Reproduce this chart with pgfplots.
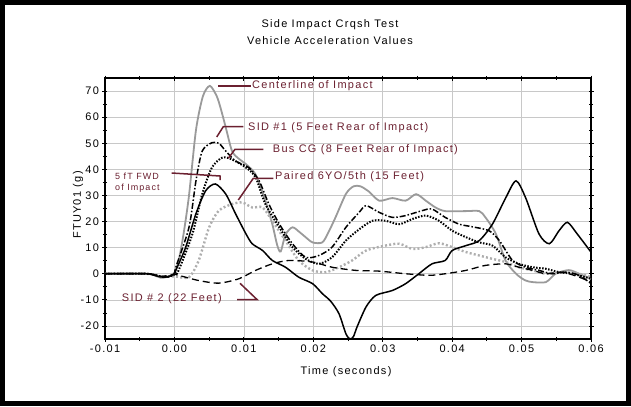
\documentclass[border=0pt]{standalone}
\usepackage{fontspec}
\setmainfont{Liberation Sans}[LetterSpace=12]
\usepackage{pgfplots}
\pgfplotsset{compat=1.18}
\definecolor{maroon}{HTML}{6B2030}
\definecolor{gridgray}{HTML}{C8C8C8}
\definecolor{clgray}{HTML}{9A9A9A}
\definecolor{pgray}{HTML}{AEAEAE}
\begin{document}
\begin{tikzpicture}[x=1bp,y=1bp]
\begin{axis}[
  scale only axis, width=486bp, height=261bp,
  at={(0,0)}, anchor=south west,
  xmin=-0.01, xmax=0.06, ymin=-25, ymax=75,
  xtick={-0.01,0,0.01,0.02,0.03,0.04,0.05,0.06},
  minor xtick={-0.005,0.005,0.015,0.025,0.035,0.045,0.055},
  ytick={-20,-10,0,10,20,30,40,50,60,70},
  minor ytick={-15,-5,5,15,25,35,45,55,65},
  grid=major, major grid style={gridgray, line width=0.6bp},
  tick align=center, major tick length=5bp, minor tick length=4bp,
  every tick/.style={black, line width=0.8bp},
  axis line style={black, line width=1.2bp},
  scaled x ticks=false,
  xticklabel style={/pgf/number format/.cd, fixed, fixed zerofill, precision=2},
  /pgf/number format/assume math mode=true,
  ticklabel style={font=\fontsize{11}{12}\selectfont},
  every axis plot/.append style={smooth, tension=0.45},
  clip=true,
]
% Centerline of Impact (gray solid)
\addplot[clgray, line width=1.8bp] coordinates {
(-0.01,0) (-0.004,0) (-0.003,-0.5) (-0.002,-1.5) (-0.001,-1.2) (0.0000,0.5)
(0.0006,5) (0.0013,15) (0.0021,30) (0.0031,55) (0.0041,68) (0.0051,72)
(0.0061,68) (0.0067,63) (0.0074,56) (0.0083,47) (0.0093,44) (0.0103,42)
(0.0117,38) (0.0131,28) (0.0141,19) (0.0148,11) (0.0153,8.5) (0.0160,15)
(0.0170,17.8) (0.0180,16) (0.0189,14) (0.0199,12) (0.0213,12) (0.0222,16)
(0.0232,21.6) (0.0247,30.6) (0.0258,33.5) (0.0268,33.5) (0.0280,31.5)
(0.0295,28) (0.0314,29) (0.0333,28) (0.0348,30.5) (0.0362,28) (0.0376,25.4)
(0.0390,24) (0.0420,24) (0.0439,24) (0.0448,21.6) (0.0463,15.3) (0.0477,5)
(0.0492,0) (0.0505,-2.5) (0.0516,-3.2) (0.0535,-3.2) (0.0549,0) (0.0568,1.4)
(0.0583,0) (0.0600,-2)
};
% Paired 6YO/5th (gray dotted)
\addplot[pgray, line width=2.4bp, dash pattern=on 2bp off 2.2bp] coordinates {
(-0.01,0) (-0.004,0) (-0.002,-1) (0,-1) (0.0021,-1.3) (0.0035,5.1) (0.0050,17.8)
(0.0064,24.2) (0.0083,26.7) (0.0098,27.3) (0.0112,25.4) (0.0127,25.4)
(0.0141,20.3) (0.0160,12.7) (0.0179,5.1) (0.0199,1.3) (0.0218,0.6)
(0.0237,2.5) (0.0256,5.1) (0.0276,8.9) (0.0304,10.8) (0.0324,11.5)
(0.0343,9.5) (0.0362,10.2) (0.0381,11.7) (0.0400,10.2) (0.0420,8.3)
(0.0439,7) (0.0458,5.7) (0.0477,4.5) (0.0496,2.5) (0.0516,1.3) (0.0535,0)
(0.0559,0.6) (0.0583,0) (0.0600,-1.3)
};
% 5 fT FWD of Impact (black solid)
\addplot[black, line width=1.5bp] coordinates {
(-0.01,0) (-0.004,0) (-0.003,-0.5) (-0.002,-1.2) (-0.001,-1.2) (0,0)
(0.0002,1.3) (0.0016,10) (0.0031,23) (0.0045,31.8) (0.0059,34.4)
(0.0074,30.5) (0.0088,23) (0.0103,15.3) (0.0112,11.5) (0.0127,8.9)
(0.0141,5.1) (0.0160,2.5) (0.0179,-1.3) (0.0199,-3.8) (0.0213,-7.6)
(0.0225,-10.5) (0.0237,-15.3) (0.0247,-23) (0.0253,-25) (0.0258,-24)
(0.0263,-20.4) (0.0276,-12.7) (0.0290,-8.3) (0.0314,-6.4) (0.0333,-3.8)
(0.0352,0) (0.0371,3.8) (0.0390,5.1) (0.0400,8.9) (0.0420,10.8)
(0.0439,12.7) (0.0458,19) (0.0477,29) (0.0492,35.6) (0.0506,29)
(0.0525,15.3) (0.0540,11.5) (0.0554,16.5) (0.0566,19.7) (0.0580,15.3)
(0.0600,8.3)
};
% SID #1 (dash dot)
\addplot[black, line width=1.5bp, dash pattern=on 6bp off 2bp on 1.5bp off 2bp] coordinates {
(-0.01,0) (-0.004,0) (-0.002,-1) (-0.001,-1.2) (0,0) (0.0002,2.5)
(0.0021,17.8) (0.0031,35.6) (0.0040,47) (0.0054,50.2) (0.0064,50)
(0.0074,47) (0.0088,43.2) (0.0107,40.7) (0.0122,35.6) (0.0136,26.7)
(0.0151,19.1) (0.0170,11.5) (0.0189,6.3) (0.0208,7) (0.0227,10.2)
(0.0247,17.8) (0.0266,23.5) (0.0276,26.1) (0.0295,23.5) (0.0314,21.6)
(0.0333,22.3) (0.0357,24.2) (0.0371,24.8) (0.0390,21.6) (0.0410,19)
(0.0429,18) (0.0453,16.5) (0.0468,12.7) (0.0487,5.1) (0.0506,2.5)
(0.0525,1.3) (0.0544,0) (0.0564,0.6) (0.0583,-0.6) (0.0600,-3.8)
};
% Bus CG (dotted)
\addplot[black, line width=2bp, dash pattern=on 1.5bp off 1.5bp] coordinates {
(-0.01,0) (-0.004,0) (-0.002,-1) (-0.001,-1.2) (0,-0.3) (0.0006,1.3)
(0.0026,15.3) (0.0040,30.5) (0.0054,40.7) (0.0069,44.5) (0.0083,43.8)
(0.0103,40.7) (0.0117,36.9) (0.0131,26.7) (0.0151,17.8) (0.0170,10.2)
(0.0189,5.7) (0.0208,3.8) (0.0227,6.3) (0.0247,12.7) (0.0266,17)
(0.0285,20.3) (0.0304,20.3) (0.0324,19) (0.0343,21) (0.0362,22.3)
(0.0381,20.3) (0.0400,16.5) (0.0420,14) (0.0439,12) (0.0458,10.8)
(0.0477,6.3) (0.0496,3.8) (0.0516,2.5) (0.0535,1.9) (0.0554,0.6)
(0.0573,0) (0.0600,-1.9)
};
% SID #2 (long dashed)
\addplot[black, line width=1.3bp, dash pattern=on 7bp off 4bp] coordinates {
(-0.01,0) (-0.004,0) (-0.002,-1) (0,-0.3) (0.0006,-0.6) (0.0035,-2.6)
(0.0064,-3.6) (0.0093,-1.9) (0.0117,1.3) (0.0141,3.8) (0.0165,5.1)
(0.0199,4.5) (0.0227,2.5) (0.0261,1.3) (0.0295,1) (0.0333,0)
(0.0367,-0.6) (0.0390,0) (0.0420,1.3) (0.0448,3.2) (0.0477,3.8)
(0.0496,2.5) (0.0516,1.3) (0.0535,0) (0.0559,0.6) (0.0583,-1.3)
(0.0600,-3.2)
};
\end{axis}
% frame
\draw[line width=5bp] (-102.5,-64.5) rectangle (523.5,336.5);
% titles and axis labels
\begin{scope}[every node/.style={inner sep=0pt, font=\fontsize{11}{12}\selectfont}]
\node at (225,314) {Side Impact Crqsh Test};
\node at (225,298) {Vehicle Acceleration Values};
\node at (241,-33) {Time (seconds)};
\node[rotate=90] at (-27,134) {FTUY01 (g)};
\end{scope}
% annotations
\begin{scope}[every node/.style={inner sep=0pt, anchor=west, text=maroon, font=\fontsize{11}{12}\selectfont}]
\draw[maroon, line width=1.5bp] (113.3,253) -- (146,253);
\node at (147,253) {Centerline of Impact};
\draw[maroon, line width=1.5bp] (111.7,202) -- (118.3,212.3) -- (138.3,212.3);
\node at (143,211) {SID \#1 (5 Feet Rear of Impact)};
\draw[maroon, line width=1.5bp] (123.3,180.7) -- (130,189.7) -- (158.3,189.7);
\node at (167.7,189) {Bus CG (8 Feet Rear of Impact)};
\draw[maroon, line width=1.5bp] (133.3,139) -- (148.3,160.7) -- (168.3,160.7);
\node at (170,162) {Paired 6YO/5th (15 Feet)};
\draw[maroon, line width=1.5bp] (66.7,166) -- (115,163) -- (115,159);
\node[font=\fontsize{9}{10}\selectfont] at (10,163) {5 fT FWD};
\node[font=\fontsize{9}{10}\selectfont] at (10,151.3) {of Impact};
\draw[maroon, line width=1.5bp] (135,55.7) -- (152,39.5) -- (132,39.5);
\node at (16.7,40) {SID \# 2 (22 Feet)};
\end{scope}
\end{tikzpicture}
\end{document}
